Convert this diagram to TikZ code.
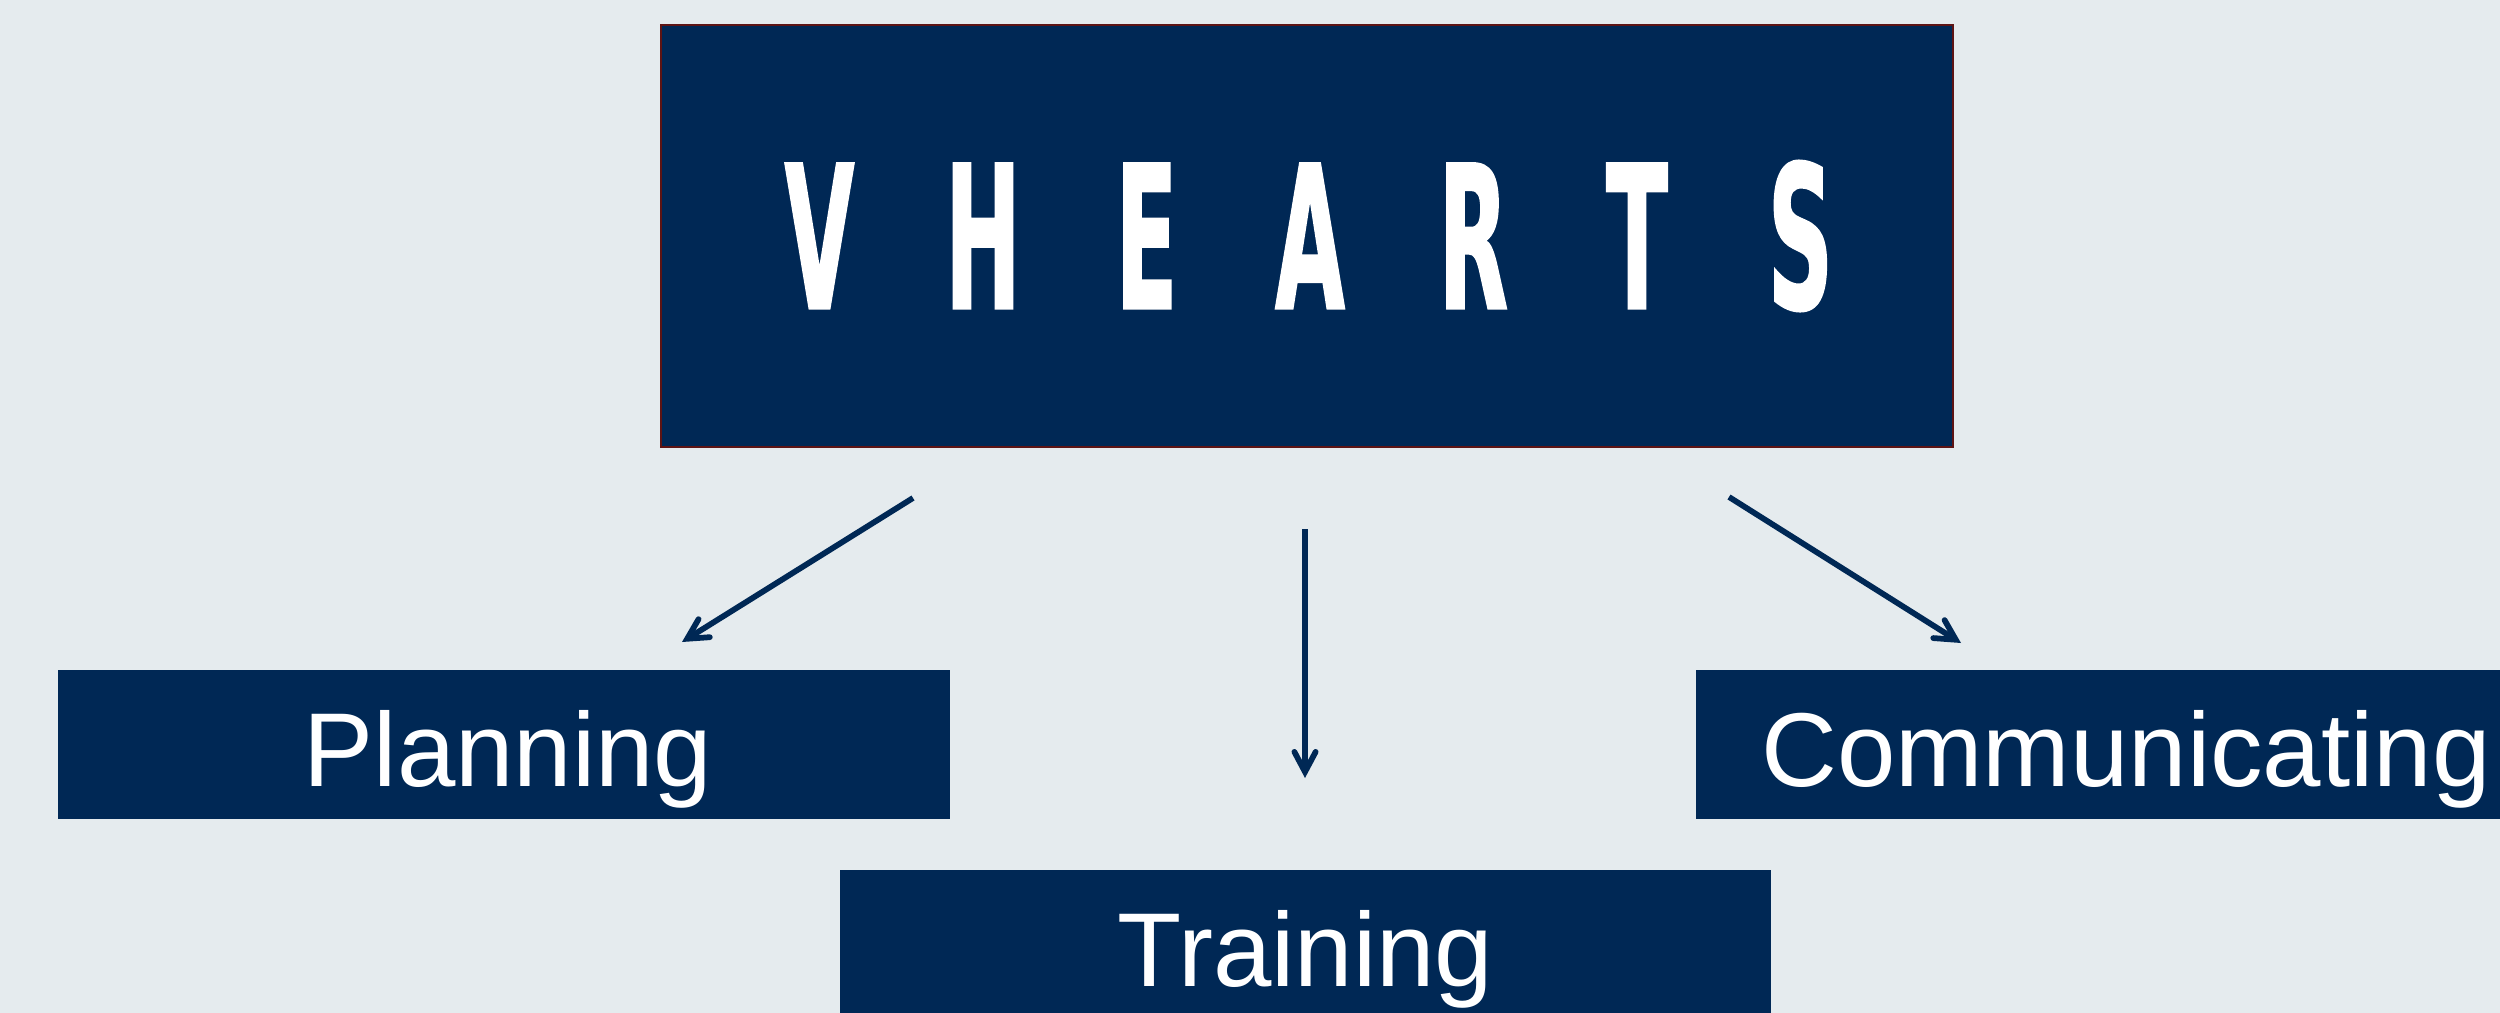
\documentclass[tikz,border=0pt]{standalone}
\usepackage{fontspec}
\setmainfont{Liberation Sans}
\newfontfamily\headfont[FakeStretch=0.45,FakeBold=0.9]{DejaVu Sans Bold}
\usetikzlibrary{arrows.meta}
\definecolor{navy}{HTML}{002855}
\definecolor{paper}{HTML}{E5EBEE}
\definecolor{edge}{HTML}{5E1414}
\newlength{\pxu}\setlength{\pxu}{0.4pt}
\newcommand{\headl}[1]{\makebox[163.5\pxu][c]{#1}}
% text placed in its box: #1 horizontal shift (px), #2 baseline drop below box centre (px)
\newcommand{\boxtext}[3]{\smash{\raisebox{-#2\pxu}{\makebox[0pt][c]{\hspace*{#1\pxu}\hspace*{#1\pxu}#3}}}}
\tikzset{
  x=0.4pt,y=-0.4pt,
  bluebox/.style={fill=navy,draw=none,inner sep=0,outer sep=0,rectangle,text=white,font=\fontsize{42pt}{50pt}\selectfont},
  headbox/.style={fill=navy,draw=edge,line width=1pt,inner sep=0,outer sep=0,rectangle,text=white},
  link/.style={draw=navy,line width=2.3pt,-{Straight Barb[length=8pt,width=8.5pt,line cap=round]}},
}
\begin{document}
\begin{tikzpicture}
\fill[paper] (0,0) rectangle (2500,1013);
\useasboundingbox (0,0) rectangle (2500,1013);
\node[headbox,minimum width=516.8pt,minimum height=168.8pt] (top) at (1307,236) {};
\node[text=white,inner sep=0] (title) at (1310,236) {\headfont\fontsize{80pt}{90pt}\selectfont\headl{V}\headl{H}\headl{E}\headl{A}\headl{R}\headl{T}\headl{S}};
\node[bluebox,minimum width=356.8pt,minimum height=59.6pt] (plan) at (504,744.5) {\boxtext{4}{41.5}{Planning}};
\node[bluebox,minimum width=372.4pt,minimum height=60pt] (train) at (1305.5,945) {\boxtext{0}{41}{Training}};
\node[bluebox,minimum width=321.6pt,minimum height=59.6pt] (comm) at (2098,744.5) {\boxtext{28}{41.5}{Communicating}};
\coordinate (a) at (913,498);
\coordinate (b) at (1305,529);
\coordinate (c) at (1729,497);
\coordinate (pt) at (682,642);
\coordinate (tt) at (1305,778);
\coordinate (ct) at (1961,643);
\draw[link] (a) -- (pt);
\draw[link] (b) -- (tt);
\draw[link] (c) -- (ct);
\end{tikzpicture}
\end{document}
